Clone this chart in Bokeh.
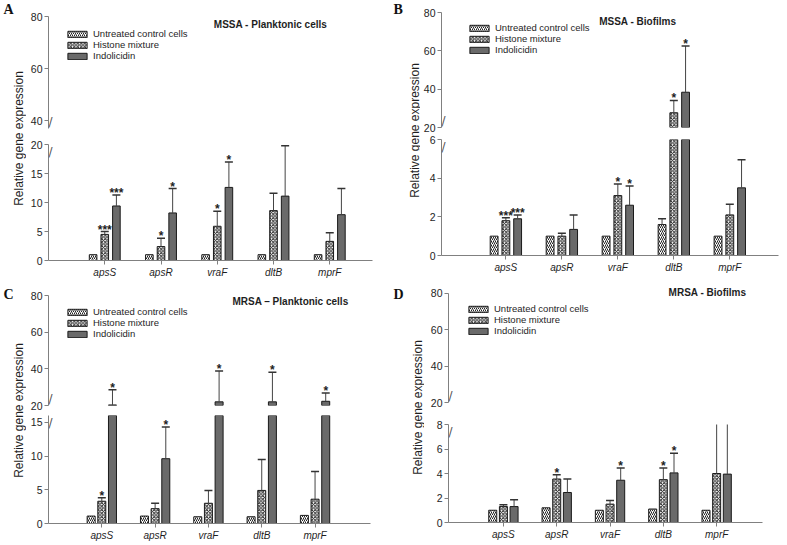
import math
from bokeh.plotting import figure
from bokeh.models import (Range1d, FixedTicker, Label, Legend, LegendItem, ColumnDataSource,
                          CDSView, BooleanFilter)
from bokeh.transform import dodge
from bokeh.layouts import row, column
from bokeh.embed import file_html
from bokeh.resources import INLINE
from bokeh.core.properties import value

NaN = float("nan")

genes = ["apsS", "apsR", "vraF", "dltB", "mprF"]
series = ["Untreated control cells", "Histone mixture", "Indolicidin"]

# Panel A - MSSA planktonic cells
a_ctrl = [1.0, 1.0, 1.0, 1.0, 1.0]
a_ctrl_err = [NaN, NaN, NaN, NaN, NaN]
a_hist = [4.5, 2.4, 5.9, 8.6, 3.3]
a_hist_err = [5.0, 3.85, 8.5, 11.6, 4.8]
a_indo = [9.4, 8.2, 12.6, 11.1, 7.9]
a_indo_err = [11.3, 12.4, 17.0, 19.8, 12.4]
a_hist_sig = ["***", "*", "*", "", ""]
a_indo_sig = ["***", "*", "*", "", ""]

# Panel B - MSSA biofilms
b_ctrl = [1.0, 1.0, 1.0, 1.6, 1.0]
b_ctrl_err = [NaN, NaN, NaN, 1.9, NaN]
b_hist = [1.8, 1.0, 3.1, 27.7, 2.1]
b_hist_err = [1.95, 1.15, 3.7, 34.1, 2.65]
b_indo = [1.9, 1.35, 2.6, 38.4, 3.5]
b_indo_err = [2.1, 2.1, 3.6, 62.5, 4.95]
b_hist_sig = ["***", "", "*", "*", ""]
b_indo_sig = ["***", "", "*", "*", ""]

# Panel C - MRSA planktonic cells
c_ctrl = [1.1, 1.1, 1.0, 1.0, 1.2]
c_ctrl_err = [NaN, NaN, NaN, NaN, NaN]
c_hist = [3.3, 2.2, 3.0, 4.9, 3.6]
c_hist_err = [3.8, 3.0, 4.9, 9.5, 7.7]
c_indo = [20.3, 9.6, 22.0, 22.0, 22.3]
c_indo_err = [28.6, 14.3, 38.8, 38.2, 26.8]
c_hist_sig = ["*", "", "", "", ""]
c_indo_sig = ["*", "*", "*", "*", "*"]

# Panel D - MRSA biofilms
d_ctrl = [1.0, 1.2, 1.0, 1.1, 1.0]
d_ctrl_err = [NaN, NaN, NaN, NaN, NaN]
d_hist = [1.3, 3.55, 1.5, 3.5, 4.0]
d_hist_err = [1.45, 3.9, 1.8, 4.45, 8.1]
d_indo = [1.3, 2.45, 3.45, 4.05, 3.95]
d_indo_err = [1.85, 3.55, 4.45, 5.65, 8.4]
d_hist_sig = ["", "*", "", "*", ""]
d_indo_sig = ["", "", "*", "*", ""]

# tick values
a_lo_ticks = [0, 5, 10, 15, 20]
a_up_ticks = [40, 60, 80]
b_lo_ticks = [0, 2, 4, 6]
c_lo_ticks = [0, 5, 10, 15]
d_lo_ticks = [0, 2, 4, 6, 8]
up_ticks = [20, 40, 60, 80]

FONT = "Liberation Sans"
AXC = "#808080"
TXT = "#1e1e1e"

STYLES = [
    ("ctrl", -1, dict(fill_color="white", hatch_pattern="/", hatch_color="#222222",
                      hatch_scale=4, hatch_weight=1)),
    ("hist", 0, dict(fill_color="white", hatch_pattern="x", hatch_color="#222222",
                     hatch_scale=3.5, hatch_weight=1)),
    ("indo", 1, dict(fill_color="#6a6a6a")),
]


def star_y(v, e):
    return [ee if ee == ee else vv for vv, ee in zip(v, e)]


def make_source(ctrl, ctrl_err, hist, hist_err, indo, indo_err, hsig, isig):
    xs = list(range(1, len(genes) + 1))
    return ColumnDataSource(dict(
        x=xs, ctrl=ctrl, ctrl_err=ctrl_err, hist=hist, hist_err=hist_err,
        indo=indo, indo_err=indo_err, hsig=hsig, isig=isig,
        hstar=star_y(hist, hist_err), istar=star_y(indo, indo_err)))


def view(flags):
    return CDSView(filter=BooleanFilter(booleans=list(flags)))


def style_y(ax, ticks):
    ax.ticker = FixedTicker(ticks=ticks)
    ax.axis_line_color = AXC
    ax.major_tick_line_color = AXC
    ax.minor_tick_line_color = None
    ax.major_tick_out = 4
    ax.major_tick_in = 0
    ax.major_label_standoff = 2
    ax.major_label_text_font = FONT
    ax.major_label_text_font_size = "10.5px"
    ax.major_label_text_color = TXT


def draw(p, src, off, bw, seg_lo, seg_hi, upper):
    """Draw the parts of bars / error bars / stars that fall inside this axis segment."""
    d = src.data
    for key, sgn, sty in STYLES:
        xx = dodge("x", sgn * off, range=p.x_range)
        vals, errs = d[key], d[key + "_err"]
        if upper:
            bar_ok = [v > seg_lo for v in vals]
            seg_ok = [e > seg_lo for e in errs]
            cap_ok = [e > seg_lo for e in errs]
        else:
            bar_ok = [True for v in vals]
            seg_ok = [(e == e) and v < seg_hi for v, e in zip(vals, errs)]
            cap_ok = [e < seg_hi for e in errs]
        if any(bar_ok):
            p.vbar(x=xx, top=key, bottom=0, width=bw, source=src, view=view(bar_ok),
                   line_color="#1a1a1a", line_width=1, **sty)
        if any(seg_ok):
            p.segment(x0=xx, y0=key, x1=xx, y1=key + "_err", source=src, view=view(seg_ok),
                      line_color="#444444", line_width=1)
            p.scatter(x=xx, y=key + "_err", marker="dash", size=8, source=src,
                      view=view(cap_ok), line_color="#333333", line_width=1.5)
    for col, sgn, ycol in (("hsig", 0, "hstar"), ("isig", 1, "istar")):
        if upper:
            ok = [s != "" and y > seg_lo for s, y in zip(d[col], d[ycol])]
        else:
            ok = [s != "" and y < seg_hi for s, y in zip(d[col], d[ycol])]
        if any(ok):
            p.text(x=dodge("x", sgn * off, range=p.x_range), y=ycol, text=col, source=src,
                   view=view(ok), text_align="center", text_baseline="alphabetic", y_offset=-2,
                   text_font=value(FONT), text_font_size="12px", text_color=TXT,
                   text_font_style="bold")


def legend_renderers(p, src, off, bw):
    # hidden copies of the three bar series, used only as legend swatches
    rends = []
    for key, sgn, sty in STYLES:
        r = p.vbar(x=dodge("x", sgn * off, range=p.x_range), top=key, bottom=0, width=bw,
                   source=src, line_color="#1a1a1a", line_width=1, **sty)
        r.visible = False
        rends.append(r)
    return rends


def break_mark(p, x0, y, baseline):
    p.add_layout(Label(x=x0, y=y, text="/", text_align="center", text_baseline=baseline,
                       x_offset=2, text_font="DejaVu Sans", text_font_size="12px",
                       text_color="#555555"))


def panel(src, geo, lo_ticks, hi_ticks, title, title_px, leg_loc):
    xr = Range1d(*geo["xr"])
    fw = geo["w"] - geo["bl"] - geo["br"]
    up = figure(width=geo["w"], height=geo["uh"], x_range=xr, y_range=Range1d(*geo["ur"]),
                x_axis_location=None, toolbar_location=None, output_backend="svg",
                min_border_left=geo["bl"], min_border_right=geo["br"],
                min_border_top=geo["ubt"], min_border_bottom=geo["ubb"])
    lo = figure(width=geo["w"], height=geo["lh"], x_range=xr, y_range=Range1d(*geo["lr"]),
                toolbar_location=None, output_backend="svg",
                min_border_left=geo["bl"], min_border_right=geo["br"],
                min_border_top=geo["lbt"], min_border_bottom=geo["lbb"])
    for p in (up, lo):
        p.outline_line_color = None
        p.xgrid.visible = False
        p.ygrid.visible = False
    style_y(up.yaxis[0], hi_ticks)
    up.yaxis[0].bounds = (geo["ur"][0], geo.get("ubound", geo["ur"][1]))
    style_y(lo.yaxis[0], lo_ticks)
    xa = lo.xaxis[0]
    xa.ticker = FixedTicker(ticks=list(range(1, len(genes) + 1)))
    xa.major_label_overrides = {i + 1: g for i, g in enumerate(genes)}
    xa.axis_line_color = AXC
    xa.major_tick_line_color = AXC
    xa.minor_tick_line_color = None
    xa.major_tick_out = 4
    xa.major_tick_in = 0
    xa.major_label_standoff = 2
    xa.major_label_text_font = FONT
    xa.major_label_text_font_size = "10px"
    xa.major_label_text_font_style = "italic"
    xa.major_label_text_color = TXT

    rends = legend_renderers(up, src, geo["off"], geo["bw"])
    draw(up, src, geo["off"], geo["bw"], geo["ur"][0], geo["ur"][1], True)
    draw(lo, src, geo["off"], geo["bw"], geo["lr"][0], geo["lr"][1], False)

    legend = Legend(items=[LegendItem(label=s, renderers=[r]) for s, r in zip(series, rends)],
                    location=leg_loc, glyph_width=24, glyph_height=8, label_height=11,
                    label_text_font=FONT, label_text_font_size="9.5px",
                    label_text_color=TXT, label_standoff=4, spacing=0, padding=0, margin=0,
                    border_line_alpha=0, background_fill_alpha=0,
                    inactive_fill_alpha=0, click_policy="none")
    up.add_layout(legend)

    x0, x1 = geo["xr"]
    y0, y1 = geo["ur"]
    ufh = geo["uh"] - geo["ubt"] - geo["ubb"]
    tx = x0 + (title_px[0] - geo["fl"]) * (x1 - x0) / fw
    ty = y1 - (title_px[1] - geo["ut"]) * (y1 - y0) / ufh
    up.add_layout(Label(x=tx, y=ty, text=title, text_align="center", text_baseline="middle",
                        text_font=FONT, text_font_size="10px", text_font_style="bold",
                        text_color=TXT))
    break_mark(up, x0, geo["ur"][0], "bottom")
    break_mark(lo, x0, geo["lr"][1], "top")
    return column(up, lo)


def side(w, h, letter, ytitle_x, ytitle_y):
    s = figure(width=w, height=h, x_range=Range1d(0, w), y_range=Range1d(0, h),
               toolbar_location=None, output_backend="svg", min_border=0,
               x_axis_location=None, y_axis_location=None)
    s.outline_line_color = None
    s.xgrid.visible = False
    s.ygrid.visible = False
    s.add_layout(Label(x=ytitle_x, y=ytitle_y, text="Relative gene expression",
                       angle=math.pi / 2, text_align="center", text_baseline="middle",
                       text_font=FONT, text_font_size="12px", text_color=TXT))
    s.add_layout(Label(x=3, y=h - 1, text=letter, text_align="left", text_baseline="top",
                       text_font="Liberation Serif", text_font_size="14px",
                       text_font_style="bold", text_color="#111111"))
    return s


geoA = dict(w=364, bl=22, br=18, xr=(0.0, 5.76), fl=48,
            uh=135, ubt=16, ubb=7, ut=16, ur=(37, 80),
            lh=150, lbt=9, lbb=25, lr=(0, 20), off=0.207, bw=0.135)
geoB = dict(w=367, bl=18, br=9, xr=(-0.15, 5.87), fl=438,
            uh=132, ubt=12, ubb=5, ut=12, ur=(20, 80),
            lh=153, lbt=7, lbb=30, lr=(0, 6), off=0.21, bw=0.14)
geoC = dict(w=364, bl=22, br=20, xr=(0.0, 6.04), fl=48,
            uh=128, ubt=10, ubb=8, ut=295, ur=(20, 80),
            lh=130, lbt=2, lbb=18, lr=(0, 16), off=0.2, bw=0.15)
geoD = dict(w=363, bl=24, br=25, xr=(-0.03, 5.86), fl=448,
            uh=122, ubt=0, ubb=5, ut=285, ur=(20, 84.4), ubound=80,
            lh=136, lbt=17, lbb=21, lr=(0, 8), off=0.2, bw=0.15)

srcA = make_source(a_ctrl, a_ctrl_err, a_hist, a_hist_err, a_indo, a_indo_err, a_hist_sig, a_indo_sig)
srcB = make_source(b_ctrl, b_ctrl_err, b_hist, b_hist_err, b_indo, b_indo_err, b_hist_sig, b_indo_sig)
srcC = make_source(c_ctrl, c_ctrl_err, c_hist, c_hist_err, c_indo, c_indo_err, c_hist_sig, c_indo_sig)
srcD = make_source(d_ctrl, d_ctrl_err, d_hist, d_hist_err, d_indo, d_indo_err, d_hist_sig, d_indo_sig)

pA = panel(srcA, geoA, a_lo_ticks, a_up_ticks, "MSSA - Planktonic cells", (270, 24), (17, 67))
pB = panel(srcB, geoB, b_lo_ticks, up_ticks, "MSSA - Biofilms", (636, 21), (26, 72))
pC = panel(srcC, geoC, c_lo_ticks, up_ticks, "MRSA \u2013 Planktonic cells", (290, 301), (17, 66))
pD = panel(srcD, geoD, d_lo_ticks, up_ticks, "MRSA - Biofilms", (707, 292), (18, 66))

sA = side(26, 285, "A", 18, 147)
sB = side(30, 285, "B", 24, 155)
sC = side(26, 258, "C", 18, 133)
sD = side(34, 258, "D", 27, 136)

layout = column(row(sA, pA, sB, pB), row(sC, pC, sD, pD))

open("out.html", "w").write(file_html(layout, INLINE))
